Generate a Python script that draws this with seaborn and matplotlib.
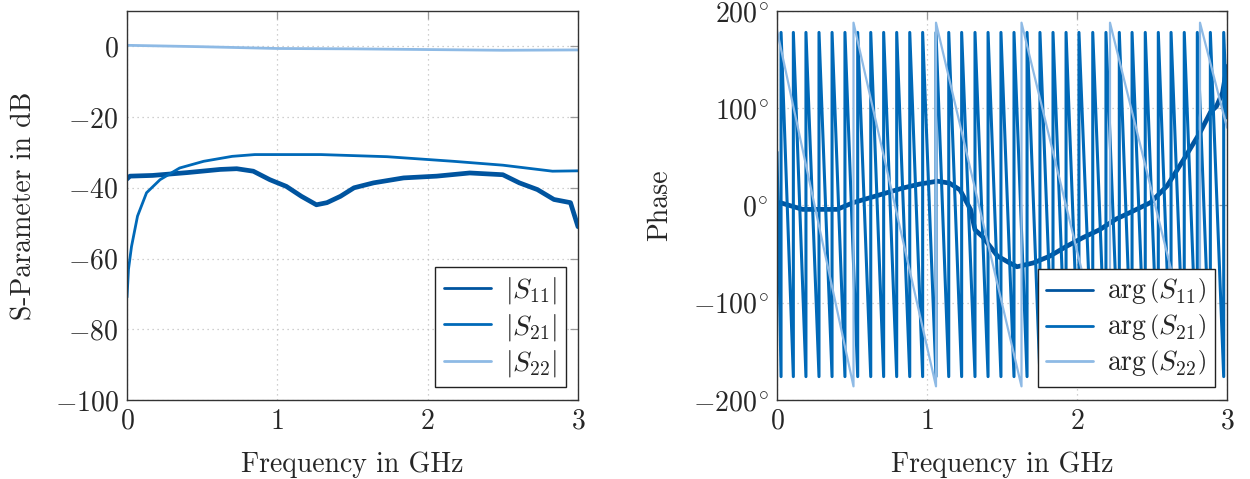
import numpy as np
import pandas as pd
import matplotlib
matplotlib.use("Agg")
import matplotlib.pyplot as plt
import seaborn as sns

sns.set_style("white")
plt.rcParams["font.family"] = "serif"
plt.rcParams["font.serif"] = ["cmr10", "DejaVu Serif"]
plt.rcParams["mathtext.fontset"] = "cm"
plt.rcParams["axes.formatter.use_mathtext"] = True
plt.rcParams["axes.unicode_minus"] = True

# ---------------- data ----------------
# |S11| in dB (noisy trace, centre values)
s11_mag_f = [0.0, 0.02, 0.17, 0.4, 0.62, 0.73, 0.84, 0.95, 1.06, 1.16, 1.26, 1.33, 1.42,
             1.51, 1.64, 1.84, 2.06, 2.28, 2.5, 2.61, 2.73, 2.84, 2.95, 3.0]
s11_mag_db = [-37.5, -36.7, -36.5, -35.7, -34.8, -34.6, -35.3, -37.7, -39.6, -42.4, -44.8,
              -44.2, -42.4, -40.0, -38.6, -37.2, -36.7, -35.8, -36.3, -38.6, -40.5, -43.3,
              -44.2, -51.0]
# |S21| in dB
s21_mag_f = [0.0, 0.01, 0.03, 0.07, 0.13, 0.22, 0.35, 0.51, 0.7, 0.85, 1.29, 1.73, 2.17,
             2.5, 2.83, 3.0]
s21_mag_db = [-71.0, -63.0, -56.6, -48.0, -41.4, -37.7, -34.4, -32.5, -31.1, -30.6, -30.6,
              -31.2, -32.5, -33.6, -35.3, -35.2]
# |S22| in dB
s22_mag_f = [0.0, 0.5, 1.0, 1.5, 2.0, 2.5, 3.0]
s22_mag_db = [0.3, -0.1, -0.6, -0.7, -0.9, -1.1, -1.0]

# arg(S11) in degrees
s11_ph_f = [0.0, 0.02, 0.17, 0.4, 0.51, 0.62, 0.73, 0.84, 0.95, 1.07, 1.15, 1.22, 1.29,
            1.32, 1.37, 1.47, 1.55, 1.6, 1.71, 1.82, 1.93, 2.04, 2.15, 2.26, 2.37, 2.49,
            2.6, 2.71, 2.82, 2.89, 2.93, 2.97, 3.0]
s11_ph_deg = [0.0, 3.0, -4.0, -4.0, 3.0, 8.0, 13.0, 18.0, 22.0, 25.0, 23.0, 16.0, -4.0,
              -25.0, -32.0, -52.0, -59.0, -63.0, -59.0, -52.0, -42.0, -33.0, -25.0, -14.0,
              -6.0, 3.0, 20.0, 47.0, 75.0, 96.0, 102.0, 116.0, 143.0]
# arg(S21): frequencies (GHz) where the wrapped phase jumps from -180 to +180
s21_wrap_f = [0.027, 0.109, 0.193, 0.280, 0.367, 0.453, 0.538, 0.625, 0.711, 0.798, 0.885,
              0.971, 1.060, 1.145, 1.231, 1.320, 1.407, 1.493, 1.580, 1.667, 1.753, 1.840,
              1.927, 2.013, 2.105, 2.193, 2.282, 2.367, 2.455, 2.542, 2.627, 2.715, 2.802,
              2.889, 2.978]
s21_ph_start = 55.0
s21_ph_end = 90.0
s21_ph_top = 178.0
s21_ph_bottom = -176.0
# arg(S22): wrap frequencies
s22_wrap_f = [0.51, 1.06, 1.63, 2.22, 2.82]
s22_ph_start = 180.0
s22_ph_end = 80.0
s22_ph_top = 188.0
s22_ph_bottom = -186.0

freq_ticks = [0, 1, 2, 3]
mag_ticks = [-100, -80, -60, -40, -20, 0]
ph_ticks = [-200, -100, 0, 100, 200]

c11, c21, c22 = "#00549F", "#0069B8", "#8EBAE5"


def wrapped(wraps, start, end, top, bottom):
    f = [0.0]
    p = [start]
    for w in wraps:
        f += [w, w]
        p += [bottom, top]
    f.append(3.0)
    p.append(end)
    return f, p


s21_ph_f, s21_ph_deg = wrapped(s21_wrap_f, s21_ph_start, s21_ph_end, s21_ph_top, s21_ph_bottom)
s22_ph_f, s22_ph_deg = wrapped(s22_wrap_f, s22_ph_start, s22_ph_end, s22_ph_top, s22_ph_bottom)

fig = plt.figure(figsize=(12.5, 4.79), dpi=100)
ax1 = fig.add_axes([0.1016, 0.165, 0.3608, 0.812])
ax2 = fig.add_axes([0.6216, 0.165, 0.36, 0.812])

fs = 20

def line(ax, f, v, color, lw, label):
    df = pd.DataFrame({"f": f, "v": v})
    sns.lineplot(data=df, x="f", y="v", ax=ax, color=color, lw=lw, label=label,
                 sort=False, estimator=None)

line(ax1, s11_mag_f, s11_mag_db, c11, 3.4, r"$|S_{11}|$")
line(ax1, s21_mag_f, s21_mag_db, c21, 2.0, r"$|S_{21}|$")
line(ax1, s22_mag_f, s22_mag_db, c22, 2.0, r"$|S_{22}|$")

line(ax2, s11_ph_f, s11_ph_deg, c11, 3.4, r"$\arg\left(S_{11}\right)$")
line(ax2, s21_ph_f, s21_ph_deg, c21, 2.2, r"$\arg\left(S_{21}\right)$")
line(ax2, s22_ph_f, s22_ph_deg, c22, 1.6, r"$\arg\left(S_{22}\right)$")

for ax in (ax1, ax2):
    ax.set_xlim(0, 3)
    ax.set_xticks(freq_ticks)
    ax.set_xticklabels([f"${t}$" for t in freq_ticks])
    ax.set_xlabel("Frequency in GHz", fontsize=fs, labelpad=12)
    ax.grid(True, linestyle=(0, (1, 3)), color="#c0c0c0", lw=0.9)
    ax.tick_params(direction="in", length=6, width=0.9, color="#999999",
                  labelsize=fs, top=True, right=True, pad=6)
    for s in ax.spines.values():
        s.set_color("#333333")
        s.set_linewidth(1.0)

ax1.set_ylim(-100, 10)
ax1.set_yticks(mag_ticks)
ax1.set_yticklabels([f"${t}$" if t >= 0 else f"$-{abs(t)}$" for t in mag_ticks])
ax1.set_ylabel("S-Parameter in dB", fontsize=fs, labelpad=12)

ax2.set_ylim(-200, 200)
ax2.set_yticks(ph_ticks)
ax2.set_yticklabels([f"${t}^{{\\!\\circ}}$" if t >= 0 else f"$-{abs(t)}^{{\\!\\circ}}$"
                     for t in ph_ticks])
ax2.set_ylabel("Phase", fontsize=fs, labelpad=14)

for ax in (ax1, ax2):
    leg = ax.legend(loc="lower right", fontsize=fs, frameon=True, fancybox=False,
                    framealpha=1, edgecolor="#222222", borderaxespad=0.45,
                    handlelength=1.7, labelspacing=0.2, borderpad=0.3,
                    handletextpad=0.5)
    leg.get_frame().set_linewidth(1.0)
    for h in leg.get_lines():
        h.set_linewidth(2.0)

fig.savefig("out.png", dpi=100)
